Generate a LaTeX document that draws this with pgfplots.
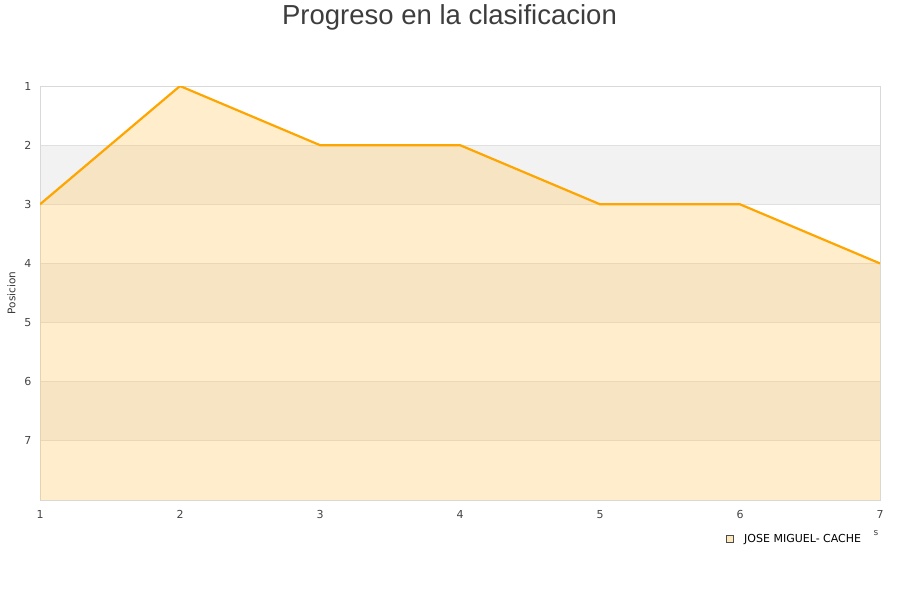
\documentclass[border=0pt]{standalone}
\usepackage{pgfplots}
\pgfplotsset{compat=1.18}
\usepackage{fontspec}
\setmainfont{DejaVu Sans}
\newfontfamily\titlefont{Liberation Sans}
\definecolor{axisgray}{HTML}{D9D9D9}
\definecolor{gridgray}{HTML}{E0E0E0}
\definecolor{bandgray}{HTML}{F2F2F2}
\definecolor{linecol}{HTML}{FFA500}
\definecolor{fillcol}{RGB}{255,197,90}
\definecolor{txt}{HTML}{444444}
\begin{document}
\begin{tikzpicture}
\useasboundingbox (0,0) rectangle (900pt,600pt);
\node[font=\titlefont\fontsize{27.5}{32}\selectfont, text=txt!90!black] at (449.5pt,582.5pt) {Progreso en la clasificacion};
% alternating background bands (2-3, 4-5, 6-7)
\fill[bandgray] (40pt,395.714pt) rectangle (880pt,454.857pt);
\fill[bandgray] (40pt,277.429pt) rectangle (880pt,336.571pt);
\fill[bandgray] (40pt,159.143pt) rectangle (880pt,218.286pt);
\begin{axis}[
    scale only axis,
    width=840pt, height=414pt,
    at={(40pt,100pt)}, anchor=south west,
    xmin=1, xmax=7, ymin=1, ymax=8,
    y dir=reverse,
    xtick={1,...,7}, ytick={1,...,7},
    ymajorgrids,
    grid style={gridgray, line width=0.8pt},
    axis line style={axisgray, line width=0.8pt},
    major tick length=0pt,
    tick label style={font=\fontsize{11}{12}\selectfont, text=txt},
    /pgf/number format/assume math mode=true,
    xticklabel style={yshift=-7pt},
    yticklabel style={xshift=-5pt},
    ylabel={Posicion},
    ylabel style={font=\fontsize{10.5}{12}\selectfont, text=txt!80!black, xshift=0pt, yshift=2pt},
  ]
  \addplot[draw=none, fill=fillcol, fill opacity=0.31] coordinates {
    (1,3) (2,1) (3,2) (4,2) (5,3) (6,3) (7,4) (7,8) (1,8)};
  \addplot[linecol, line width=2.2pt, line join=round] coordinates {
    (1,3) (2,1) (3,2) (4,2) (5,3) (6,3) (7,4)};
\end{axis}
\node[draw=black!70, fill=fillcol!40, minimum size=7pt, inner sep=0pt, line width=0.6pt] at (730pt,61.5pt) {};
\node[anchor=west, font=\fontsize{11}{12}\selectfont, inner sep=0pt] at (744pt,60.5pt) {JOSE MIGUEL- CACHE};
\node[font=\fontsize{9}{10}\selectfont, text=txt, inner sep=0pt] at (876pt,67pt) {s};
\end{tikzpicture}
\end{document}
